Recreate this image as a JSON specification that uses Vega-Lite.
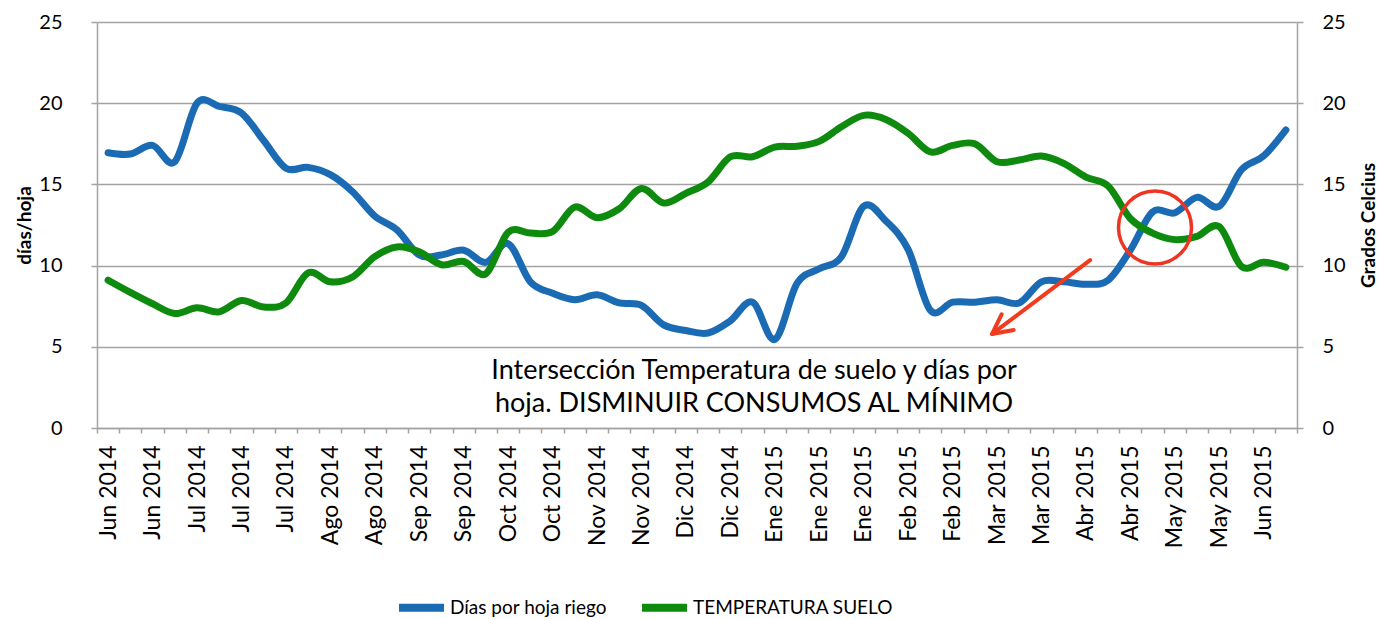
{
  "$schema": "https://vega.github.io/schema/vega-lite/v6.json",
  "width": 1200,
  "height": 406,
  "autosize": {"type": "none"},
  "padding": {"left": 97, "top": 22, "right": 90, "bottom": 191},
  "background": "white",
  "config": {
    "font": "Lato",
    "view": {"stroke": null},
    "axis": {
      "labelFont": "Lato",
      "titleFont": "Lato",
      "labelColor": "#000000",
      "titleColor": "#000000",
      "domainColor": "#a3a3a3",
      "tickColor": "#a3a3a3",
      "gridColor": "#a3a3a3",
      "domainWidth": 1.5,
      "tickWidth": 1.5,
      "gridWidth": 1.5,
      "gridOpacity": 1
    }
  },
  "data": {
    "values": [
      {"semana": 1, "dias": 16.95, "temp": 9.1},
      {"semana": 2, "dias": 16.87, "temp": 8.35},
      {"semana": 3, "dias": 17.4, "temp": 7.65},
      {"semana": 4, "dias": 16.4, "temp": 7.05},
      {"semana": 5, "dias": 20.0, "temp": 7.4},
      {"semana": 6, "dias": 19.8, "temp": 7.15},
      {"semana": 7, "dias": 19.4, "temp": 7.85},
      {"semana": 8, "dias": 17.7, "temp": 7.45},
      {"semana": 9, "dias": 16.0, "temp": 7.7},
      {"semana": 10, "dias": 16.05, "temp": 9.55},
      {"semana": 11, "dias": 15.6, "temp": 9.0},
      {"semana": 12, "dias": 14.55, "temp": 9.3},
      {"semana": 13, "dias": 13.05, "temp": 10.55},
      {"semana": 14, "dias": 12.2, "temp": 11.15},
      {"semana": 15, "dias": 10.65, "temp": 10.85},
      {"semana": 16, "dias": 10.65, "temp": 10.05},
      {"semana": 17, "dias": 10.95, "temp": 10.25},
      {"semana": 18, "dias": 10.2, "temp": 9.5},
      {"semana": 19, "dias": 11.35, "temp": 12.05},
      {"semana": 20, "dias": 9.0, "temp": 12.0},
      {"semana": 21, "dias": 8.3, "temp": 12.1},
      {"semana": 22, "dias": 7.9, "temp": 13.6},
      {"semana": 23, "dias": 8.2, "temp": 12.95},
      {"semana": 24, "dias": 7.7, "temp": 13.5},
      {"semana": 25, "dias": 7.55, "temp": 14.75},
      {"semana": 26, "dias": 6.35, "temp": 13.85},
      {"semana": 27, "dias": 6.0, "temp": 14.45},
      {"semana": 28, "dias": 5.85, "temp": 15.15},
      {"semana": 29, "dias": 6.6, "temp": 16.7},
      {"semana": 30, "dias": 7.75, "temp": 16.7},
      {"semana": 31, "dias": 5.45, "temp": 17.3},
      {"semana": 32, "dias": 8.9, "temp": 17.35},
      {"semana": 33, "dias": 9.8, "temp": 17.65},
      {"semana": 34, "dias": 10.55, "temp": 18.55},
      {"semana": 35, "dias": 13.65, "temp": 19.25},
      {"semana": 36, "dias": 12.75, "temp": 19.0},
      {"semana": 37, "dias": 11.0, "temp": 18.15},
      {"semana": 38, "dias": 7.25, "temp": 17.0},
      {"semana": 39, "dias": 7.75, "temp": 17.4},
      {"semana": 40, "dias": 7.75, "temp": 17.5},
      {"semana": 41, "dias": 7.9, "temp": 16.4},
      {"semana": 42, "dias": 7.7, "temp": 16.5},
      {"semana": 43, "dias": 9.0, "temp": 16.75},
      {"semana": 44, "dias": 9.0, "temp": 16.3},
      {"semana": 45, "dias": 8.85, "temp": 15.45},
      {"semana": 46, "dias": 9.1, "temp": 14.9},
      {"semana": 47, "dias": 10.95, "temp": 12.9},
      {"semana": 48, "dias": 13.3, "temp": 12.0},
      {"semana": 49, "dias": 13.25, "temp": 11.6},
      {"semana": 50, "dias": 14.2, "temp": 11.8},
      {"semana": 51, "dias": 13.65, "temp": 12.4},
      {"semana": 52, "dias": 15.9, "temp": 9.95},
      {"semana": 53, "dias": 16.75, "temp": 10.2},
      {"semana": 54, "dias": 18.35, "temp": 9.9}
    ]
  },
  "layer": [
    {
      "layer": [
        {
          "mark": {"type": "line", "interpolate": "cardinal", "strokeWidth": 7, "strokeCap": "round", "strokeJoin": "round"},
          "encoding": {
            "x": {
              "field": "semana",
              "type": "ordinal",
              "bandPosition": 0.5,
              "scale": {"type": "band", "paddingInner": 0, "paddingOuter": 0},
              "axis": {
                "title": null,
                "tickBand": "extent",
                "tickSize": 5,
                "labelAngle": 270,
                "labelAlign": "right",
                "labelBaseline": "middle",
                "labelPadding": 12,
                "labelFontSize": 23,
                "labelOverlap": false,
                "labelBound": false,
                "labelExpr": "datum.value % 2 == 1 ? ['Jun 2014','Jun 2014','Jul 2014','Jul 2014','Jul 2014','Ago 2014','Ago 2014','Sep 2014','Sep 2014','Oct 2014','Oct 2014','Nov 2014','Nov 2014','Dic 2014','Dic 2014','Ene 2015','Ene 2015','Ene 2015','Feb 2015','Feb 2015','Mar 2015','Mar 2015','Abr 2015','Abr 2015','May 2015','May 2015','Jun 2015'][(datum.value - 1) / 2] : ''"
              }
            },
            "y": {
              "field": "dias",
              "type": "quantitative",
              "scale": {"domain": [0, 25], "nice": false, "zero": false},
              "axis": {
                "orient": "left",
                "title": "días/hoja",
                "values": [0, 5, 10, 15, 20, 25],
                "grid": true,
                "tickSize": 6,
                "labelPadding": 29,
                "labelFontSize": 20,
                "titleFontSize": 19,
                "titleFontWeight": "bold",
                "titlePadding": 4
              }
            },
            "color": {
              "datum": "Días por hoja riego",
              "type": "nominal",
              "scale": {"domain": ["Días por hoja riego", "TEMPERATURA SUELO"], "range": ["#1a6bb3", "#0e8a0e"]},
              "legend": {
                "title": null,
                "orient": "none",
                "legendX": 298,
                "legendY": 559,
                "direction": "horizontal",
                "symbolType": "stroke",
                "symbolSize": 2025,
                "symbolStrokeWidth": 8,
                "labelFont": "Lato",
                "labelFontSize": 19,
                "labelColor": "#000000",
                "labelOffset": 2,
                "labelLimit": 0,
                "columnPadding": 19,
                "padding": 0
              }
            }
          }
        },
        {
          "mark": {"type": "line", "interpolate": "cardinal", "strokeWidth": 7, "strokeCap": "round", "strokeJoin": "round"},
          "encoding": {
            "x": {"field": "semana", "type": "ordinal", "bandPosition": 0.5},
            "y": {
              "field": "temp",
              "type": "quantitative",
              "scale": {"domain": [0, 25], "nice": false, "zero": false},
              "axis": {
                "orient": "right",
                "title": "Grados Celcius",
                "values": [0, 5, 10, 15, 20, 25],
                "grid": false,
                "tickSize": 6,
                "labelPadding": 19,
                "labelFontSize": 20,
                "titleFontSize": 19,
                "titleFontWeight": "bold",
                "titleAngle": 270,
                "titleBaseline": "top",
                "titlePadding": 14
              }
            },
            "color": {"datum": "TEMPERATURA SUELO", "type": "nominal"}
          }
        }
      ],
      "resolve": {"scale": {"y": "independent"}}
    },
    {
      "data": {"values": [{}]},
      "layer": [
        {
          "mark": {"type": "text", "align": "center", "baseline": "middle", "fontSize": 27, "lineHeight": 33, "lineBreak": "\n", "color": "#000000", "font": "Lato"},
          "encoding": {
            "x": {"datum": 29.57, "type": "quantitative", "scale": {"domain": [0, 54], "nice": false, "zero": false}, "axis": null},
            "y": {"datum": 3.5, "type": "quantitative", "scale": {"domain": [0, 25], "nice": false, "zero": false}, "axis": null},
            "text": {"value": "Intersección Temperatura de suelo y días por\nhoja. DISMINUIR CONSUMOS AL MÍNIMO"}
          }
        },
        {
          "mark": {"type": "rule", "color": "#f23a1d", "strokeWidth": 4, "strokeCap": "round"},
          "encoding": {
            "x": {"datum": 44.69, "type": "quantitative"},
            "x2": {"datum": 40.28},
            "y": {"datum": 10.34, "type": "quantitative"},
            "y2": {"datum": 5.79}
          }
        },
        {
          "mark": {"type": "point", "shape": "M-0.45,0.89L0,0L0.45,0.89", "size": 1936, "angle": 232.8, "filled": false, "stroke": "#f23a1d", "strokeWidth": 4, "strokeCap": "round", "strokeJoin": "round", "opacity": 1},
          "encoding": {
            "x": {"datum": 40.28, "type": "quantitative"},
            "y": {"datum": 5.79, "type": "quantitative"}
          }
        },
        {
          "mark": {"type": "point", "shape": "circle", "size": 5329, "filled": false, "stroke": "#ee3522", "strokeWidth": 3.5, "opacity": 1},
          "encoding": {
            "x": {"datum": 47.61, "type": "quantitative"},
            "y": {"datum": 12.35, "type": "quantitative"}
          }
        }
      ]
    }
  ],
  "resolve": {"scale": {"x": "independent", "y": "independent"}}
}
